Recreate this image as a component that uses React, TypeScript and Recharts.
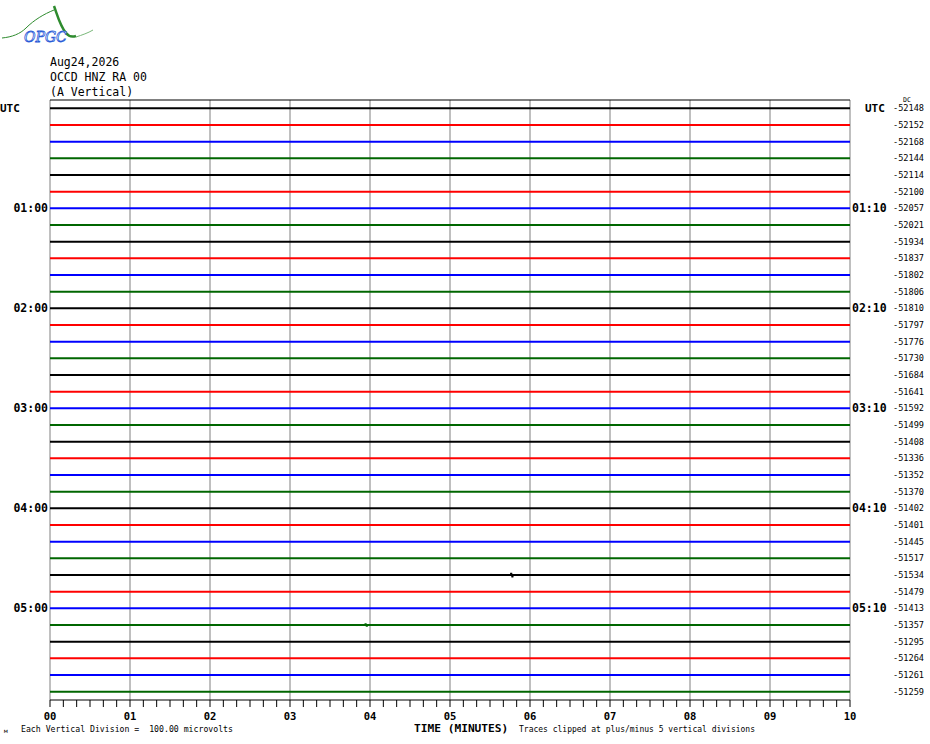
import React from 'react';
import { LineChart, Line, XAxis, YAxis, ReferenceLine } from 'recharts';

const rowColors = ['#000000', '#ff0000', '#0000ff', '#006600'];

const dcValues = [
  -52148, -52152, -52168, -52144, -52114, -52100, -52057, -52021, -51934, -51837, -51802, -51806,
  -51810, -51797, -51776, -51730, -51684, -51641, -51592, -51499, -51408, -51336, -51352, -51370,
  -51402, -51401, -51445, -51517, -51534, -51479, -51413, -51357, -51295, -51264, -51261, -51259,
];

const leftTimeLabels: Record<number, string> = { 0: 'UTC', 6: '01:00', 12: '02:00', 18: '03:00', 24: '04:00', 30: '05:00' };
const rightTimeLabels: Record<number, string> = { 0: 'UTC', 6: '01:10', 12: '02:10', 18: '03:10', 24: '04:10', 30: '05:10' };

const minuteTicks = [0, 1, 2, 3, 4, 5, 6, 7, 8, 9, 10];
const minuteLabels = ['00', '01', '02', '03', '04', '05', '06', '07', '08', '09', '10'];
const tenSecondTicks = Array.from({ length: 61 }, (_, i) => i / 6);

// small visible excursions on otherwise quiet traces (row, minute, offset in rows)
const traceBlips: Record<number, { t: number; d: number }[]> = {
  28: [{ t: 5.765, d: -0.12 }, { t: 5.78, d: 0.14 }],
  31: [{ t: 3.945, d: -0.1 }, { t: 3.96, d: 0.1 }],
};

const headerLines = ['Aug24,2026', 'OCCD HNZ RA 00', '(A Vertical)'];

const rows = dcValues.map((dc, i) => {
  const base = i + 0.5;
  const blips = (traceBlips[i] || []).map((b) => ({ t: b.t, v: base + b.d }));
  return {
    id: i,
    color: rowColors[i % 4],
    data: [{ t: 0, v: base }, ...blips.flatMap((p) => [{ t: p.t - 0.004, v: base }, p, { t: p.t + 0.004, v: base }]), { t: 10, v: base }],
  };
});

const rowTicks = dcValues.map((_, i) => i + 0.5);
const leftTicks = Object.keys(leftTimeLabels).map((k) => Number(k) + 0.5);

const mono = 'DejaVu Sans Mono, monospace';

const LeftTick = (props: any) => {
  const { x, y, payload } = props;
  const row = Math.round(payload.value - 0.5);
  const label = leftTimeLabels[row];
  if (!label) return null;
  if (label === 'UTC') {
    return (
      <text x={0} y={y} dy="0.35em" fontFamily={mono} fontWeight="bold" fontSize={11} fill="#000" textAnchor="start">
        UTC
      </text>
    );
  }
  return (
    <text x={x} y={y} dy="0.35em" fontFamily={mono} fontWeight="bold" fontSize={11.5} fill="#000" textAnchor="end">
      {label}
    </text>
  );
};

const RightTick = (props: any) => {
  const { x, y, payload } = props;
  const row = Math.round(payload.value - 0.5);
  const label = rightTimeLabels[row];
  return (
    <g>
      {label && (
        <text
          x={label === 'UTC' ? x + 13 : x}
          y={y}
          dy="0.35em"
          fontFamily={mono}
          fontWeight="bold"
          fontSize={label === 'UTC' ? 11 : 11.5}
          fill="#000"
          textAnchor="start"
        >
          {label}
        </text>
      )}
      <text x={x + 41} y={y} dy="0.35em" fontFamily={mono} fontSize={8.6} fill="#000" textAnchor="start">
        {dcValues[row]}
      </text>
    </g>
  );
};

const BottomTick = (props: any) => {
  const { x, y, payload } = props;
  const v = payload.value;
  const idx = minuteTicks.findIndex((m) => Math.abs(m - v) < 1e-6);
  if (idx < 0) return null;
  return (
    <text x={x} y={y + 11} fontFamily={mono} fontWeight="bold" fontSize={10.5} fill="#000" textAnchor="middle">
      {minuteLabels[idx]}
    </text>
  );
};

const Overlay = () => (
  <svg width={930} height={744} style={{ position: 'absolute', left: 0, top: 0, pointerEvents: 'none' }}>
    {/* logo */}
    <path d="M2,38 C12,37 20,34 26,28 C34,20 44,14 54,10" stroke="#2e8b2e" strokeWidth={1} fill="none" />
    <path d="M54,6 C57,14 60,26 66,33 C69,37 73,37 76,36" stroke="#2e8b2e" strokeWidth={2.5} fill="none" />
    <path d="M76,37 C82,35 88,33 93,30" stroke="#7ab87a" strokeWidth={1} fill="none" />
    <text x={24} y={42} fontFamily="DejaVu Serif, serif" fontStyle="italic" fontSize={14} fill="#ffffff" stroke="#2a5bd7" strokeWidth={0.8}>
      OPGC
    </text>
    {headerLines.map((t, i) => (
      <text key={t} x={50} y={66 + i * 15} fontFamily={mono} fontSize={11.5} fill="#000" style={{ whiteSpace: 'pre' }}>
        {t}
      </text>
    ))}
    <text x={903} y={102} fontFamily={mono} fontSize={6.5} fill="#000">DC</text>
    <text x={4} y={733} fontFamily={mono} fontSize={6} fill="#000">м</text>
    <text x={21} y={732} fontFamily={mono} fontSize={8.2} fill="#000" style={{ whiteSpace: 'pre' }}>
      {'Each Vertical Division =  100.00 microvolts'}
    </text>
    <text x={414} y={732} fontFamily={mono} fontWeight="bold" fontSize={11.2} fill="#000" style={{ whiteSpace: 'pre' }}>
      TIME (MINUTES)
    </text>
    <text x={519} y={732} fontFamily={mono} fontSize={8} fill="#000" style={{ whiteSpace: 'pre' }}>
      Traces clipped at plus/minus 5 vertical divisions
    </text>
  </svg>
);

export default function App() {
  return (
    <div style={{ position: 'absolute', left: 0, top: 0, width: 930, height: 744, background: '#fff' }}>
      <LineChart width={930} height={744} margin={{ top: 100, right: 0, bottom: 14, left: 0 }}>
        <XAxis
          dataKey="t"
          type="number"
          domain={[0, 10]}
          ticks={tenSecondTicks}
          interval={0}
          allowDuplicatedCategory={false}
          height={30}
          tickSize={7}
          axisLine={{ stroke: '#000', strokeWidth: 1 }}
          tickLine={{ stroke: '#000', strokeWidth: 1 }}
          tick={<BottomTick />}
        />
        <YAxis
          yAxisId="l"
          type="number"
          domain={[0, 36]}
          reversed
          width={50}
          ticks={leftTicks}
          interval={0}
          axisLine={false}
          tickLine={false}
          tickSize={0}
          tickMargin={2}
          tick={<LeftTick />}
        />
        <YAxis
          yAxisId="r"
          orientation="right"
          type="number"
          domain={[0, 36]}
          reversed
          width={80}
          ticks={rowTicks}
          interval={0}
          axisLine={false}
          tickLine={false}
          tickSize={0}
          tickMargin={2}
          tick={<RightTick />}
        />
        {minuteTicks.map((m) => (
          <ReferenceLine key={m} x={m} yAxisId="l" stroke="#808080" strokeWidth={1} />
        ))}
        <ReferenceLine y={0} yAxisId="l" stroke="#000" strokeWidth={1} />
        {rows.map((r) => (
          <Line
            key={r.id}
            yAxisId="l"
            data={r.data}
            dataKey="v"
            type="linear"
            stroke={r.color}
            strokeWidth={2}
            dot={false}
            activeDot={false}
            isAnimationActive={false}
          />
        ))}
        <Line
          yAxisId="r"
          data={rows[0].data}
          dataKey="v"
          type="linear"
          stroke="none"
          strokeOpacity={0}
          dot={false}
          activeDot={false}
          legendType="none"
          isAnimationActive={false}
        />
      </LineChart>
      <Overlay />
    </div>
  );
}
